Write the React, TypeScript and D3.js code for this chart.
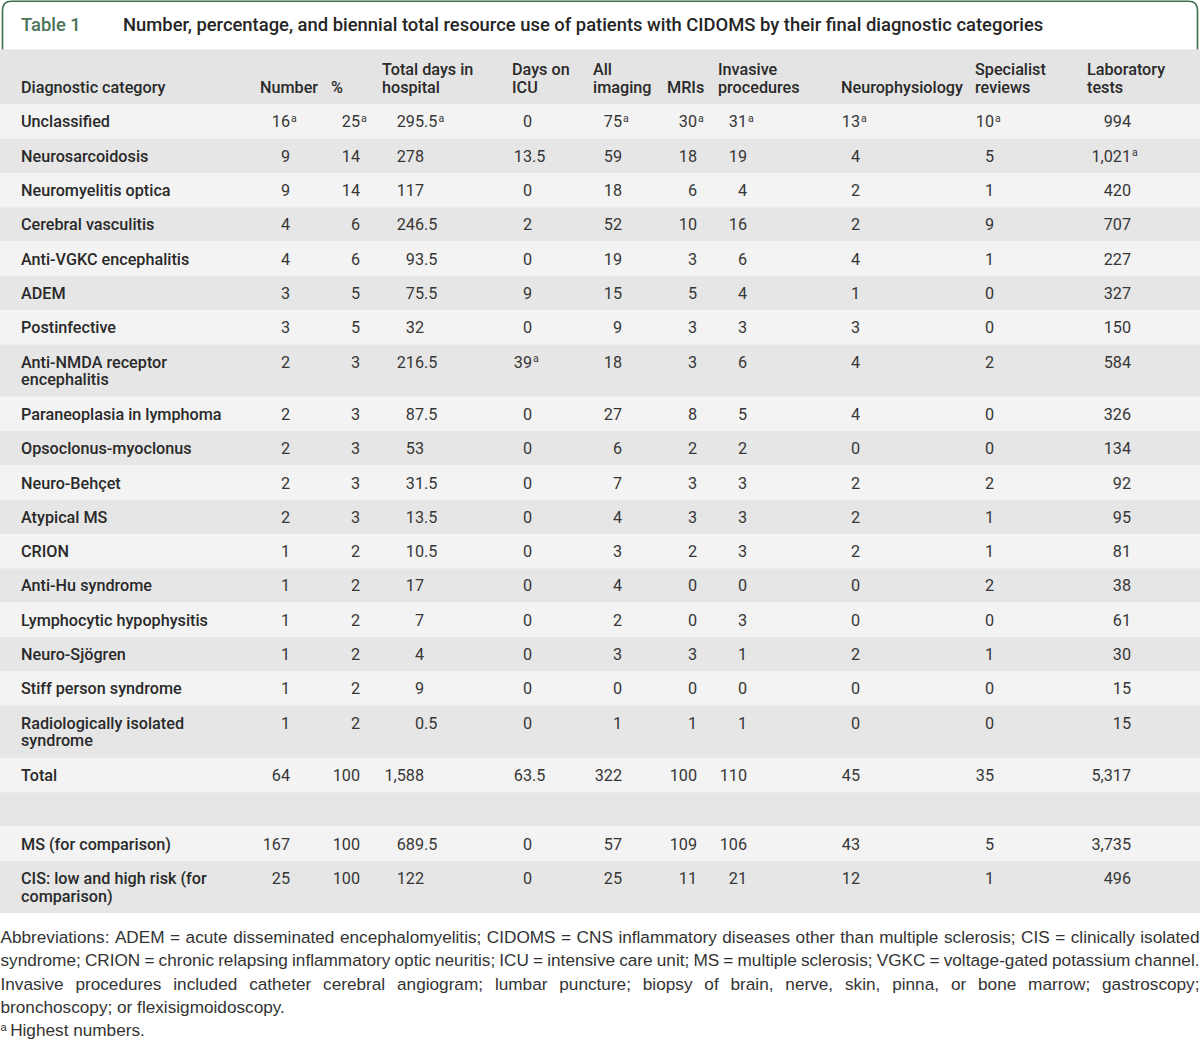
import React, { useEffect, useRef } from "react";
import * as d3 from "d3";

// ---------- DATA ----------
const titleLabel = "Table 1";
const titleText =
  "Number, percentage, and biennial total resource use of patients with CIDOMS by their final diagnostic categories";

// "|" marks a line break, "*" marks the superscript "a" (highest numbers)
const categories = [
  "Unclassified",
  "Neurosarcoidosis",
  "Neuromyelitis optica",
  "Cerebral vasculitis",
  "Anti-VGKC encephalitis",
  "ADEM",
  "Postinfective",
  "Anti-NMDA receptor|encephalitis",
  "Paraneoplasia in lymphoma",
  "Opsoclonus-myoclonus",
  "Neuro-Behçet",
  "Atypical MS",
  "CRION",
  "Anti-Hu syndrome",
  "Lymphocytic hypophysitis",
  "Neuro-Sjögren",
  "Stiff person syndrome",
  "Radiologically isolated|syndrome",
  "Total",
  "",
  "MS (for comparison)",
  "CIS: low and high risk (for|comparison)",
];

const numberCol = ["16*", "9", "9", "4", "4", "3", "3", "2", "2", "2", "2", "2", "1", "1", "1", "1", "1", "1", "64", "", "167", "25"];
const percentCol = ["25*", "14", "14", "6", "6", "5", "5", "3", "3", "3", "3", "3", "2", "2", "2", "2", "2", "2", "100", "", "100", "100"];
const hospitalDaysCol = ["295.5*", "278", "117", "246.5", "93.5", "75.5", "32", "216.5", "87.5", "53", "31.5", "13.5", "10.5", "17", "7", "4", "9", "0.5", "1,588", "", "689.5", "122"];
const icuDaysCol = ["0", "13.5", "0", "2", "0", "9", "0", "39*", "0", "0", "0", "0", "0", "0", "0", "0", "0", "0", "63.5", "", "0", "0"];
const allImagingCol = ["75*", "59", "18", "52", "19", "15", "9", "18", "27", "6", "7", "4", "3", "4", "2", "3", "0", "1", "322", "", "57", "25"];
const mriCol = ["30*", "18", "6", "10", "3", "5", "3", "3", "8", "2", "3", "3", "2", "0", "0", "3", "0", "1", "100", "", "109", "11"];
const invasiveCol = ["31*", "19", "4", "16", "6", "4", "3", "6", "5", "2", "3", "3", "3", "0", "3", "1", "0", "1", "110", "", "106", "21"];
const neurophysCol = ["13*", "4", "2", "2", "4", "1", "3", "4", "4", "0", "2", "2", "2", "0", "0", "2", "0", "0", "45", "", "43", "12"];
const specialistCol = ["10*", "5", "1", "9", "1", "0", "0", "2", "0", "0", "2", "1", "1", "2", "0", "1", "0", "0", "35", "", "5", "1"];
const labTestsCol = ["994", "1,021*", "420", "707", "227", "327", "150", "584", "326", "134", "92", "95", "81", "38", "61", "30", "15", "15", "5,317", "", "3,735", "496"];

const headers = [
  "Diagnostic category",
  "Number",
  "%",
  "Total days in|hospital",
  "Days on|ICU",
  "All|imaging",
  "MRIs",
  "Invasive|procedures",
  "Neurophysiology",
  "Specialist|reviews",
  "Laboratory|tests",
];

const columns = [numberCol, percentCol, hospitalDaysCol, icuDaysCol, allImagingCol, mriCol, invasiveCol, neurophysCol, specialistCol, labTestsCol];

const footLines = [
  "Abbreviations: ADEM = acute disseminated encephalomyelitis; CIDOMS = CNS inflammatory diseases other than multiple sclerosis; CIS = clinically isolated",
  "syndrome; CRION = chronic relapsing inflammatory optic neuritis; ICU = intensive care unit; MS = multiple sclerosis; VGKC = voltage-gated potassium channel.",
  "Invasive procedures included catheter cerebral angiogram; lumbar puncture; biopsy of brain, nerve, skin, pinna, or bone marrow; gastroscopy;",
  "bronchoscopy; or flexisigmoidoscopy.",
];
const footNote = "Highest numbers.";

// ---------- LAYOUT ----------
const W = 1200;
const H = 1040;
const headerLeft = [21, 260, 331, 382, 512, 593, 667, 718, 841, 975, 1087];
const anchorX = [290, 360, 424, 532, 622, 697, 747, 860, 994, 1131];
const headerTop = 49.3;
const headerBottom = 104.3;
const singleH = 34.3;
const lineStep = 17.6;
const font = "Roboto, 'Noto Sans', sans-serif";
const fs = 16.2;

export default function App() {
  const ref = useRef<SVGSVGElement | null>(null);

  useEffect(() => {
    const svg = d3.select(ref.current);
    svg.selectAll("*").remove();

    svg.append("rect").attr("width", W).attr("height", H).attr("fill", "#ffffff");

    // title box
    const r = 9;
    const l = 2.5, rr = 1197.5, t = 1.2;
    svg
      .append("path")
      .attr(
        "d",
        `M${l},${headerTop + 2} V${t + r} Q${l},${t} ${l + r},${t} H${rr - r} Q${rr},${t} ${rr},${t + r} V${headerTop + 2}`
      )
      .attr("fill", "#ffffff")
      .attr("stroke", "#3f6c4b")
      .attr("stroke-width", 1.6);

    svg
      .append("text")
      .attr("x", 21)
      .attr("y", 30.5)
      .attr("font-family", font)
      .attr("font-size", 18.4)
      .attr("font-weight", 500)
      .attr("fill", "#4a7358")
      .text(titleLabel);
    svg
      .append("text")
      .attr("x", 123)
      .attr("y", 30.5)
      .attr("font-family", font)
      .attr("font-size", 18.4)
      .attr("font-weight", 500)
      .attr("fill", "#252525")
      .text(titleText);

    // header row
    svg
      .append("rect")
      .attr("x", 0)
      .attr("y", headerTop)
      .attr("width", W)
      .attr("height", headerBottom - headerTop)
      .attr("fill", "#e4e4e4");

    headers.forEach((h, i) => {
      const parts = h.split("|");
      const baseY = 93;
      parts.forEach((p, j) => {
        svg
          .append("text")
          .attr("x", headerLeft[i])
          .attr("y", baseY - (parts.length - 1 - j) * lineStep)
          .attr("font-family", font)
          .attr("font-size", fs)
          .attr("font-weight", 500)
          .attr("fill", "#2a2a2a")
          .text(p);
      });
    });

    // body rows
    const rowHeights = categories.map((c) => singleH + (c.split("|").length - 1) * (lineStep + 0.5));
    let y = headerBottom;
    categories.forEach((c, i) => {
      const h = rowHeights[i];
      svg
        .append("rect")
        .attr("x", 0)
        .attr("y", y)
        .attr("width", W)
        .attr("height", h)
        .attr("fill", i % 2 === 0 ? "#f3f3f3" : "#e6e6e6");

      const base = y + 17.3 + 5.8;
      c.split("|").forEach((p, j) => {
        svg
          .append("text")
          .attr("x", 21)
          .attr("y", base + j * lineStep)
          .attr("font-family", font)
          .attr("font-size", fs)
          .attr("font-weight", 500)
          .attr("fill", "#2a2a2a")
          .text(p);
      });

      columns.forEach((col, k) => {
        const raw = col[i];
        if (!raw) return;
        const sup = raw.endsWith("*");
        const v = sup ? raw.slice(0, -1) : raw;
        const dot = v.indexOf(".");
        const intPart = dot >= 0 ? v.slice(0, dot) : v;
        const frac = dot >= 0 ? v.slice(dot) : "";
        svg
          .append("text")
          .attr("x", anchorX[k])
          .attr("y", base)
          .attr("text-anchor", "end")
          .attr("font-family", font)
          .attr("font-size", fs)
          .attr("fill", "#363636")
          .text(intPart);
        if (frac || sup) {
          const tx = svg
            .append("text")
            .attr("x", anchorX[k])
            .attr("y", base)
            .attr("font-family", font)
            .attr("font-size", fs)
            .attr("fill", "#363636");
          if (frac) tx.append("tspan").text(frac);
          if (sup)
            tx.append("tspan")
              .attr("font-size", 10.5)
              .attr("dx", 1)
              .attr("dy", -5.5)
              .text("a");
        }
      });
      y += h;
    });

    // footnotes
    const footFont = "'Liberation Sans', Arial, sans-serif";
    const footSize = 17.2;
    const footTop = 943;
    const footStep = 23.3;
    footLines.forEach((line, i) => {
      const ly = footTop + i * footStep;
      const justify = i < 3;
      if (!justify) {
        svg
          .append("text")
          .attr("x", 0.5)
          .attr("y", ly)
          .attr("font-family", footFont)
          .attr("font-size", footSize)
          .attr("fill", "#333333")
          .text(line);
        return;
      }
      const words = line.split(" ");
      const nodes = words.map((w) =>
        svg
          .append("text")
          .attr("y", ly)
          .attr("font-family", footFont)
          .attr("font-size", footSize)
          .attr("fill", "#333333")
          .text(w)
      );
      const widths = nodes.map((n) => (n.node() as SVGTextElement).getComputedTextLength());
      const total = d3.sum(widths);
      let gap = (1199.5 - 0.5 - total) / (words.length - 1);
      let scale = 1;
      if (gap < footSize * 0.2) {
        gap = footSize * 0.2;
        scale = (1199 - gap * (words.length - 1)) / total;
      }
      let x = 0.5;
      nodes.forEach((n, j) => {
        n.attr("x", x);
        if (scale !== 1) {
          n.attr("textLength", widths[j] * scale).attr("lengthAdjust", "spacingAndGlyphs");
        }
        x += widths[j] * scale + gap;
      });
    });
    const ny = footTop + 4 * footStep;
    const fn = svg
      .append("text")
      .attr("x", 0.5)
      .attr("y", ny)
      .attr("font-family", footFont)
      .attr("font-size", footSize)
      .attr("fill", "#333333");
    fn.append("tspan").attr("font-size", 11).attr("dy", -5.5).text("a");
    fn.append("tspan").attr("dy", 5.5).attr("dx", 3.5).text(footNote);
  }, []);

  return (
    <svg
      ref={ref}
      width={W}
      height={H}
      style={{ position: "absolute", left: 0, top: 0, display: "block" }}
    />
  );
}
